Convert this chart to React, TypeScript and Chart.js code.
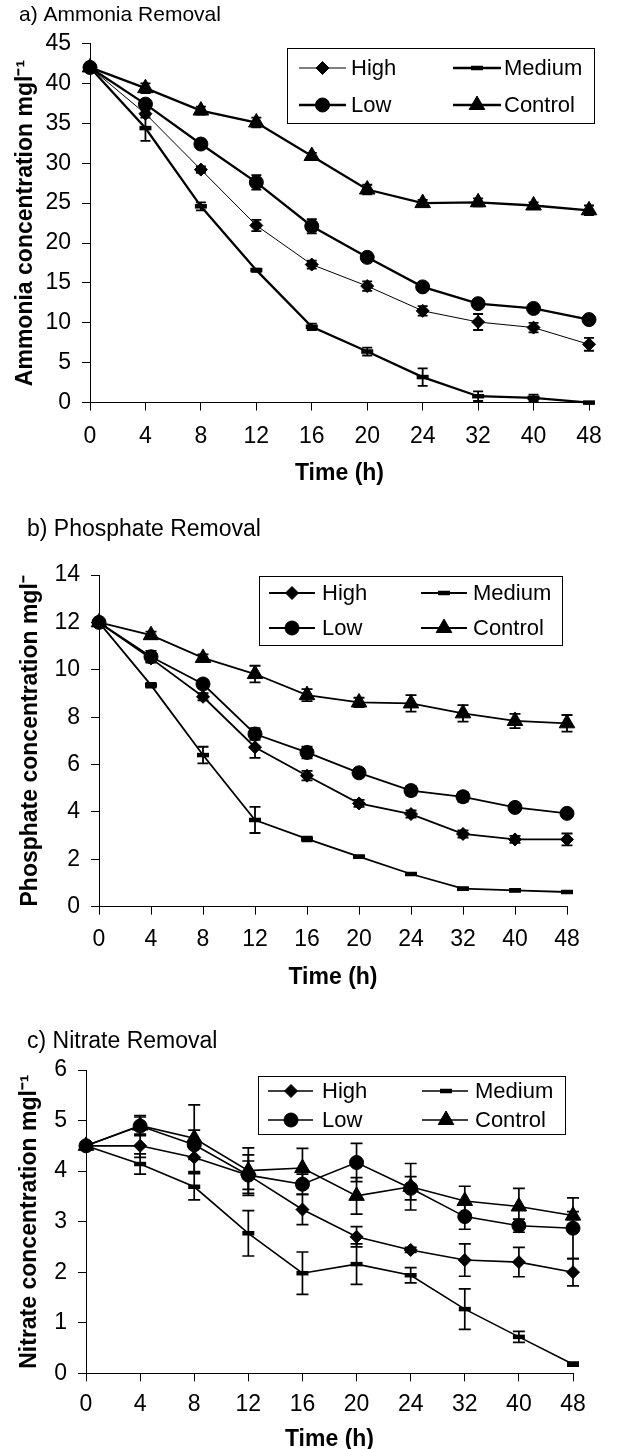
import React, { useEffect, useRef } from 'react';
import { Chart, registerables } from 'chart.js';
import { drawPoint } from 'chart.js/helpers';

Chart.register(...registerables);
Chart.defaults.font.family = '"Liberation Sans", Arial, Helvetica, sans-serif';
Chart.defaults.color = '#000';

// ---------- shared categories ----------
const timeLabels = ['0', '4', '8', '12', '16', '20', '24', '32', '40', '48'];
const seriesNames = ['High', 'Medium', 'Low', 'Control'];

// ---------- a) Ammonia ----------
const ammoniaHigh = [42.0, 36.2, 29.2, 22.2, 17.3, 14.6, 11.5, 10.1, 9.4, 7.3];
const ammoniaHighErr = [0, 0.5, 0.4, 0.7, 0.5, 0.6, 0.6, 1.0, 0.6, 0.8];
const ammoniaMedium = [42.0, 34.4, 24.6, 16.6, 9.5, 6.4, 3.2, 0.8, 0.6, 0.0];
const ammoniaMediumErr = [0, 1.6, 0.5, 0.2, 0.4, 0.5, 1.1, 0.6, 0.4, 0.1];
const ammoniaLow = [42.0, 37.4, 32.4, 27.6, 22.1, 18.2, 14.5, 12.4, 11.8, 10.4];
const ammoniaLowErr = [0, 0.5, 0.4, 0.9, 0.9, 0.3, 0.3, 0.3, 0.3, 0.2];
const ammoniaControl = [42.0, 39.4, 36.6, 35.1, 30.9, 26.7, 25.0, 25.1, 24.7, 24.1];
const ammoniaControlErr = [0, 0.6, 0.5, 0.6, 0.4, 0.6, 0.4, 0.5, 0.4, 0.6];

// ---------- b) Phosphate ----------
const phosphateHigh = [12.0, 10.48, 8.86, 6.73, 5.53, 4.36, 3.91, 3.07, 2.84, 2.84];
const phosphateHighErr = [0, 0.15, 0.15, 0.45, 0.2, 0.15, 0.15, 0.15, 0.15, 0.25];
const phosphateMedium = [12.0, 9.35, 6.4, 3.66, 2.86, 2.11, 1.38, 0.76, 0.69, 0.62];
const phosphateMediumErr = [0, 0.1, 0.35, 0.55, 0.1, 0.05, 0.05, 0.05, 0.05, 0.05];
const phosphateLow = [12.0, 10.55, 9.4, 7.29, 6.51, 5.65, 4.9, 4.64, 4.19, 3.94];
const phosphateLowErr = [0, 0.25, 0.15, 0.25, 0.25, 0.15, 0.2, 0.2, 0.1, 0.1];
const phosphateControl = [12.0, 11.46, 10.5, 9.82, 8.93, 8.62, 8.58, 8.16, 7.84, 7.74];
const phosphateControlErr = [0, 0.15, 0.15, 0.35, 0.25, 0.2, 0.35, 0.35, 0.3, 0.35];

// ---------- c) Nitrate ----------
const nitrateHigh = [4.5, 4.5, 4.27, 3.92, 3.24, 2.7, 2.44, 2.24, 2.2, 2.0];
const nitrateHighErr = [0, 0.23, 0.3, 0.28, 0.3, 0.2, 0.05, 0.32, 0.29, 0.27];
const nitrateMedium = [4.5, 4.14, 3.69, 2.77, 1.98, 2.16, 1.94, 1.27, 0.72, 0.18];
const nitrateMediumErr = [0, 0.2, 0.26, 0.45, 0.42, 0.4, 0.15, 0.4, 0.11, 0.04];
const nitrateLow = [4.5, 4.89, 4.52, 3.92, 3.74, 4.17, 3.66, 3.1, 2.92, 2.87];
const nitrateLowErr = [0, 0.18, 0.29, 0.4, 0.2, 0.38, 0.23, 0.25, 0.13, 0.6];
const nitrateControl = [4.5, 4.9, 4.65, 4.01, 4.06, 3.51, 3.69, 3.41, 3.3, 3.12];
const nitrateControlErr = [0, 0.2, 0.66, 0.45, 0.39, 0.36, 0.46, 0.29, 0.36, 0.08];

// ---------- marker styles ----------
const markerStyles = [
  { pointStyle: 'rectRot', radius: 6.5, borderWidth: 1 },
  { pointStyle: 'line', radius: 6, borderWidth: 4.5 },
  { pointStyle: 'circle', radius: 7, borderWidth: 1 },
  { pointStyle: 'triangle', radius: 9, borderWidth: 1 },
];

type LegendLayout = {
  box: [number, number, number, number];
  rows: [number, number];
  cols: { x1: number; x2: number; m: number; text: number }[];
  font: number;
};

type Panel = {
  id: string;
  top: number;
  height: number;
  title: string;
  titleSize: number;
  yTitle: string;
  yMax: number;
  yStep: number;
  values: number[][];
  errors: number[][];
  lineWidths: number[];
  errWidth: number;
  capHalf: number;
  padLeft: number;
  padRight: number;
  titlePadTop: number;
  titlePadBottom: number;
  yWidth: number;
  yTitlePad: number;
  yTickPad: number;
  xHeight: number;
  xTickPad: number;
  xTitlePad: number;
  legend: LegendLayout;
};

const panels: Panel[] = [
  {
    id: 'a', top: 0, height: 495,
    title: 'a) Ammonia Removal', titleSize: 21,
    yTitle: 'Ammonia concentration mgl⁻¹',
    yMax: 45, yStep: 5,
    values: [ammoniaHigh, ammoniaMedium, ammoniaLow, ammoniaControl],
    errors: [ammoniaHighErr, ammoniaMediumErr, ammoniaLowErr, ammoniaControlErr],
    lineWidths: [1, 2.3, 2.3, 2.3],
    errWidth: 1.8, capHalf: 5,
    padLeft: 19, padRight: 28,
    titlePadTop: 2.4, titlePadBottom: 15.9,
    yWidth: 71, yTitlePad: -6.8, yTickPad: 11,
    xHeight: 92.4, xTickPad: 12.3, xTitlePad: 7.2,
    legend: {
      box: [287, 48, 594, 123], rows: [68, 105],
      cols: [{ x1: 299, x2: 346, m: 322.5, text: 351 }, { x1: 453, x2: 501, m: 477, text: 504 }],
      font: 22,
    },
  },
  {
    id: 'b', top: 495, height: 505,
    title: 'b) Phosphate Removal', titleSize: 23,
    yTitle: 'Phosphate concentration mgl⁻',
    yMax: 14, yStep: 2,
    values: [phosphateHigh, phosphateMedium, phosphateLow, phosphateControl],
    errors: [phosphateHighErr, phosphateMediumErr, phosphateLowErr, phosphateControlErr],
    lineWidths: [1.8, 1.8, 1.8, 1.8],
    errWidth: 1.8, capHalf: 5.5,
    padLeft: 27, padRight: 50,
    titlePadTop: 21.2, titlePadBottom: 31.2,
    yWidth: 72, yTitlePad: -9.8, yTickPad: 11,
    xHeight: 93.3, xTickPad: 11.5, xTitlePad: 8.2,
    legend: {
      box: [259, 81, 562, 150], rows: [98, 133],
      cols: [{ x1: 269, x2: 315, m: 292, text: 322 }, { x1: 421, x2: 467, m: 444, text: 473 }],
      font: 22,
    },
  },
  {
    id: 'c', top: 1000, height: 449,
    title: 'c) Nitrate Removal', titleSize: 23,
    yTitle: 'Nitrate concentration mgl⁻¹',
    yMax: 6, yStep: 1,
    values: [nitrateHigh, nitrateMedium, nitrateLow, nitrateControl],
    errors: [nitrateHighErr, nitrateMediumErr, nitrateLowErr, nitrateControlErr],
    lineWidths: [1.6, 1.6, 1.6, 1.6],
    errWidth: 1.7, capHalf: 6,
    padLeft: 27, padRight: 44,
    titlePadTop: 28.2, titlePadBottom: 14.2,
    yWidth: 59, yTitlePad: -10.8, yTickPad: 11,
    xHeight: 75.7, xTickPad: 9.9, xTitlePad: -4.8,
    legend: {
      box: [258, 76, 565, 134], rows: [91, 120],
      cols: [{ x1: 268, x2: 313, m: 291, text: 322 }, { x1: 422, x2: 468, m: 446, text: 475 }],
      font: 22,
    },
  },
];

function makeErrorBarPlugin(p: Panel) {
  return {
    id: 'errorBars_' + p.id,
    afterDatasetsDraw(chart: any) {
      const ctx = chart.ctx;
      const ys = chart.scales.y;
      chart.data.datasets.forEach((ds: any, i: number) => {
        const meta = chart.getDatasetMeta(i);
        const errs: number[] = ds.errors || [];
        ctx.save();
        ctx.strokeStyle = '#000';
        ctx.lineWidth = p.errWidth;
        meta.data.forEach((pt: any, j: number) => {
          const e = errs[j];
          if (!e) return;
          const v = ds.data[j];
          const x = pt.x;
          const yT = ys.getPixelForValue(v + e);
          const yB = ys.getPixelForValue(v - e);
          ctx.beginPath();
          ctx.moveTo(x, yT);
          ctx.lineTo(x, yB);
          ctx.moveTo(x - p.capHalf, yT);
          ctx.lineTo(x + p.capHalf, yT);
          ctx.moveTo(x - p.capHalf, yB);
          ctx.lineTo(x + p.capHalf, yB);
          ctx.stroke();
        });
        ctx.restore();
      });
    },
  };
}

function makeLegendPlugin(p: Panel) {
  return {
    id: 'boxLegend_' + p.id,
    afterDraw(chart: any) {
      const ctx = chart.ctx;
      const L = p.legend;
      const [x1, y1, x2, y2] = L.box;
      ctx.save();
      ctx.fillStyle = '#fff';
      ctx.fillRect(x1, y1, x2 - x1, y2 - y1);
      ctx.strokeStyle = '#000';
      ctx.lineWidth = 1;
      ctx.strokeRect(x1 + 0.5, y1 + 0.5, x2 - x1, y2 - y1);
      chart.data.datasets.forEach((ds: any, i: number) => {
        const col = L.cols[i % 2];
        const y = L.rows[Math.floor(i / 2)];
        ctx.strokeStyle = '#000';
        ctx.fillStyle = '#000';
        ctx.lineWidth = ds.borderWidth;
        ctx.beginPath();
        ctx.moveTo(col.x1, y);
        ctx.lineTo(col.x2, y);
        ctx.stroke();
        ctx.lineWidth = ds.pointBorderWidth;
        drawPoint(ctx, {
          pointStyle: ds.pointStyle,
          radius: ds.pointRadius,
          borderWidth: ds.pointBorderWidth,
          rotation: 0,
        } as any, col.m, y);
        ctx.font = `${L.font}px "Liberation Sans", Arial, sans-serif`;
        ctx.textBaseline = 'middle';
        ctx.textAlign = 'left';
        ctx.fillStyle = '#000';
        ctx.fillText(ds.label, col.text, y + 1);
      });
      ctx.restore();
    },
  };
}

function ChartPanel({ p }: { p: Panel }) {
  const ref = useRef<HTMLCanvasElement | null>(null);
  useEffect(() => {
    if (!ref.current) return;
    const datasets = p.values.map((vals, i) => ({
      label: seriesNames[i],
      data: vals,
      errors: p.errors[i],
      borderColor: '#000',
      backgroundColor: '#000',
      borderWidth: p.lineWidths[i],
      pointStyle: markerStyles[i].pointStyle,
      pointRadius: markerStyles[i].radius,
      pointBorderWidth: markerStyles[i].borderWidth,
      pointBackgroundColor: '#000',
      pointBorderColor: '#000',
      tension: 0,
      clip: false,
    }));
    const chart = new Chart(ref.current, {
      type: 'line',
      data: { labels: timeLabels, datasets: datasets as any },
      options: {
        responsive: false,
        animation: false,
        devicePixelRatio: 1,
        events: [],
        layout: { padding: { left: p.padLeft, right: p.padRight, top: 0, bottom: 0 } },
        plugins: {
          legend: { display: false },
          tooltip: { enabled: false },
          title: {
            display: true,
            text: p.title,
            align: 'start',
            color: '#000',
            font: { size: p.titleSize, weight: 'normal' },
            padding: { top: p.titlePadTop, bottom: p.titlePadBottom },
          },
        },
        scales: {
          x: {
            type: 'category',
            offset: false,
            grid: {
              display: true, drawOnChartArea: false, drawTicks: true,
              tickLength: 8, tickColor: '#000', color: '#000', offset: false,
            },
            border: { display: true, color: '#000', width: 1 },
            ticks: { color: '#000', font: { size: 23 }, padding: p.xTickPad, maxRotation: 0, autoSkip: false },
            title: {
              display: true, text: 'Time (h)', color: '#000',
              font: { size: 23, weight: 'bold' },
              padding: { top: 0, bottom: p.xTitlePad },
            },
            afterFit: (s: any) => { s.height = p.xHeight; },
          },
          y: {
            min: 0,
            max: p.yMax,
            grid: {
              display: true, drawOnChartArea: false, drawTicks: true,
              tickLength: 8, tickColor: '#000', color: '#000',
            },
            border: { display: true, color: '#000', width: 1 },
            ticks: { stepSize: p.yStep, color: '#000', font: { size: 23 }, padding: p.yTickPad },
            title: {
              display: true, text: p.yTitle, color: '#000',
              font: { size: 23, weight: 'bold' },
              padding: { top: p.yTitlePad, bottom: 0 },
            },
            afterFit: (s: any) => { s.width = p.yWidth; },
          },
        },
      } as any,
      plugins: [makeErrorBarPlugin(p), makeLegendPlugin(p)],
    });
    return () => chart.destroy();
  }, [p]);
  return (
    <canvas
      ref={ref}
      width={617}
      height={p.height}
      style={{ position: 'absolute', left: 0, top: p.top, width: 617, height: p.height }}
    />
  );
}

export default function App() {
  return (
    <div style={{ position: 'absolute', left: 0, top: 0, width: 617, height: 1449, background: '#fff', overflow: 'hidden' }}>
      {panels.map((p) => (
        <ChartPanel key={p.id} p={p} />
      ))}
    </div>
  );
}
